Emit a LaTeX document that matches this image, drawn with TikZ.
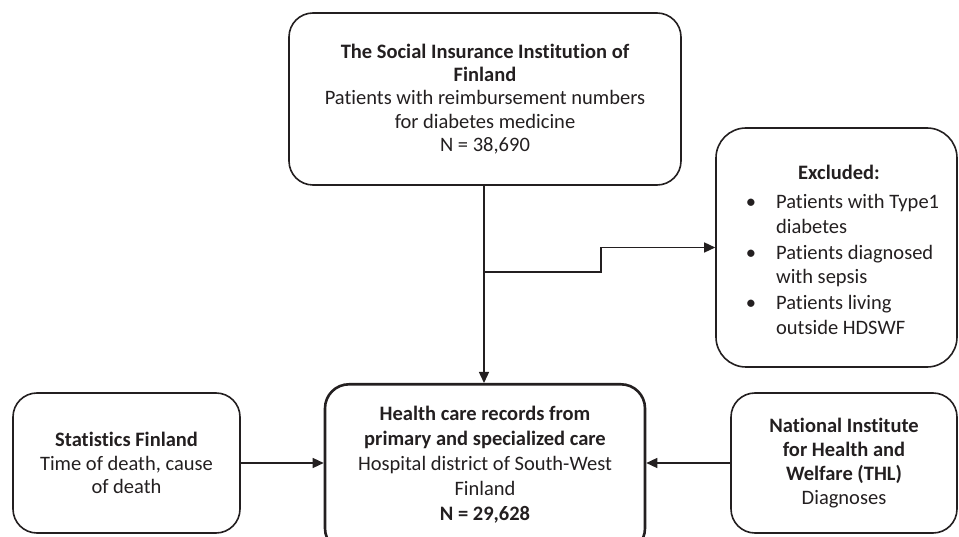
\documentclass[tikz,border=0pt]{standalone}
\usepackage{fontspec}
\setmainfont{Carlito}[Ligatures=NoCommon]
\usepackage{xcolor}
\usetikzlibrary{arrows.meta}
\definecolor{ink}{HTML}{231F20}

\tikzset{
	box/.style={draw=ink, line width=1.6pt, rounded corners=24pt, align=center, inner sep=0pt, text=ink},
	link/.style={draw=ink, line width=1.4pt, -{Triangle[length=11pt,width=10pt]}}
}

\begin{document}
\begin{tikzpicture}[x=1pt, y=-1pt, font=\fontsize{20.5}{23.3}\selectfont]

	\useasboundingbox (0,0) rectangle (959,537);
	\clip (0,0) rectangle (959,537);

	\node[box, minimum width=392pt, minimum height=172pt] (kela) at (485,99)
		{\textbf{The Social Insurance Institution of}\\ \textbf{Finland}\\ Patients with reimbursement numbers\\ for diabetes medicine\\ N = 38,690};

	\node[box, minimum width=241pt, minimum height=239pt, rounded corners=30pt] (excl) at (836.5,247.5) {};
	\node[text=ink, align=center, anchor=north, inner sep=0pt] (excltext) at (839,165)
		{\textbf{Excluded:}\\[11pt]
		\hspace*{7pt}\def\arraystretch{1.05}%
		\begin{tabular}{@{}c@{\hspace{20pt}}l@{}}
			• & Patients with Type1\\
			  & diabetes\\[1.5pt]
			• & Patients diagnosed\\
			  & with sepsis\\[1.5pt]
			• & Patients living\\
			  & outside HDSWF
		\end{tabular}};

	\node[box, line width=2.6pt, minimum width=320pt, minimum height=168pt, anchor=north] (records) at (485,383) {};
	\node[text=ink, align=center, anchor=north, font=\fontsize{20.5}{25}\selectfont] (recordstext) at (485,402.5)
		{\textbf{Health care records from}\\ \textbf{primary and specialized care}\\ Hospital district of South-West\\ Finland\\ \textbf{N = 29,628}};

	\node[box, minimum width=227pt, minimum height=140pt] (stat) at (126.5,463)
		{\textbf{Statistics Finland}\\ Time of death, cause\\ of death};

	\node[box, minimum width=226pt, minimum height=140pt, font=\fontsize{20.5}{24}\selectfont] (thl) at (844,463)
		{\textbf{National Institute}\\ \textbf{for Health and}\\ \textbf{Welfare (THL)}\\ Diagnoses};

	% flow
	\coordinate (split) at (484,272);
	\draw[link] (kela.south -| split) -- (records.north -| split);
	\draw[link] (split) -- ++(117,0) |- (excl.west);
	\draw[link] (stat.east) -- (stat.east -| records.west);
	\draw[link] (thl.west) -- (thl.west -| records.east);

\end{tikzpicture}
\end{document}
